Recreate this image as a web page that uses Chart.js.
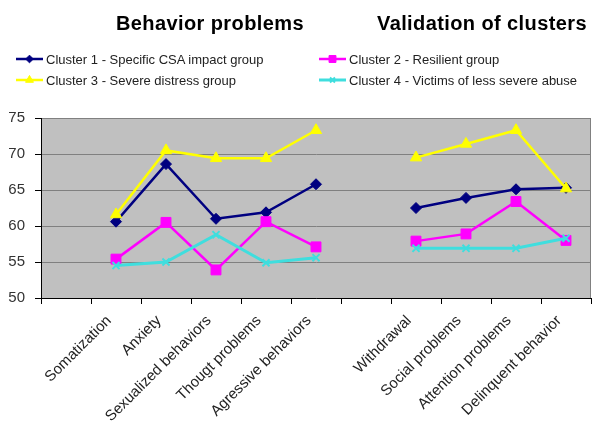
<!DOCTYPE html>
<html>
<head>
<meta charset="utf-8">
<script src="https://cdn.jsdelivr.net/npm/chart.js@4/dist/chart.umd.min.js"></script>
<style>
  body { margin: 0; background: #fff; font-family: Arial, "Liberation Sans", sans-serif; }
  #wrap { position: relative; width: 604px; height: 429px; overflow: hidden; }
  #chart { position: absolute; left: 0; top: 0; }
  .title { position: absolute; top: 12px; font-weight: bold; font-size: 20px; letter-spacing: 0.4px; color: #000; white-space: nowrap; }
  .item { position: absolute; display: flex; align-items: center; font-size: 13px; color: #222; white-space: nowrap; }
  .item canvas { margin-right: 3px; }
</style>
</head>
<body>
<div id="wrap">
  <canvas id="chart" width="604" height="429"></canvas>
  <div class="title" style="left:116px">Behavior problems</div>
  <div class="title" style="left:377px">Validation of clusters</div>
  <div id="legend"></div>
</div>
<script>
// categories (empty slots keep the gap before and between the two groups)
const categories = ["", "Somatization", "Anxiety", "Sexualized behaviors", "Thougt problems", "Agressive behaviors",
    "", "Withdrawal", "Social problems", "Attention problems", "Delinquent behavior"];

const cluster1 = [null, 60.6, 68.6, 61.0, 61.9, 65.8, null, 62.5, 63.9, 65.1, 65.3];
const cluster2 = [null, 55.4, 60.5, 53.9, 60.6, 57.1, null, 57.9, 58.9, 63.4, 58.0];
const cluster3 = [null, 61.6, 70.5, 69.4, 69.4, 73.3, null, 69.5, 71.4, 73.3, 65.2];
const cluster4 = [null, 54.5, 55.0, 58.8, 54.9, 55.6, null, 56.9, 56.9, 56.9, 58.3];

const seriesNames = [
    "Cluster 1 - Specific CSA impact group",
    "Cluster 2 - Resilient group",
    "Cluster 3 - Severe distress group",
    "Cluster 4 - Victims of less severe abuse"
];
const yTicks = [50, 55, 60, 65, 70, 75];

function series(label, data, color, style, radius, width, order) {
    return {
        label: label,
        data: data,
        borderColor: color,
        backgroundColor: color,
        pointBackgroundColor: color,
        pointBorderColor: color,
        pointStyle: style,
        pointRadius: radius,
        pointHoverRadius: radius,
        pointBorderWidth: style === "crossRot" ? 2 : 1,
        borderWidth: width,
        tension: 0,
        spanGaps: false,
        order: order
    };
}

const datasets = [
    series(seriesNames[0], cluster1, "#000080", "rectRot", 5.5, 2.5, 4),
    series(seriesNames[1], cluster2, "#ff00ff", "rect", 7, 2.5, 3),
    series(seriesNames[2], cluster3, "#ffff00", "triangle", 6.5, 2.5, 2),
    series(seriesNames[3], cluster4, "#3fdede", "crossRot", 5, 3, 1)
];

// grey plot area like the old Excel default
const plotBg = {
    id: "plotBg",
    beforeDraw(chart) {
        const a = chart.chartArea, ctx = chart.ctx;
        ctx.save();
        ctx.fillStyle = "#c0c0c0";
        ctx.fillRect(a.left, a.top, a.right - a.left, a.bottom - a.top);
        ctx.strokeStyle = "#808080";
        ctx.lineWidth = 1;
        ctx.strokeRect(a.left + 0.5, a.top + 0.5, a.right - a.left - 1, a.bottom - a.top);
        ctx.restore();
    }
};

const chart = new Chart(document.getElementById("chart"), {
    type: "line",
    data: { labels: categories, datasets: datasets },
    plugins: [plotBg],
    options: {
        responsive: false,
        animation: false,
        layout: { padding: { left: 0, right: 13, top: 118, bottom: 0 } },
        plugins: { legend: { display: false }, tooltip: { enabled: false } },
        scales: {
            x: {
                offset: true,
                afterFit: s => { s.height = 131; },
                grid: { offset: true, drawOnChartArea: false, drawTicks: true, tickLength: 6, color: "#000" },
                border: { color: "#000", width: 1 },
                ticks: {
                    autoSkip: false, maxRotation: 45, minRotation: 45, padding: 8, labelOffset: -7,
                    color: "#222", font: { family: "Arial, 'Liberation Sans'", size: 15 }
                }
            },
            y: {
                min: 50, max: 75,
                afterFit: s => { s.width = 41; },
                afterBuildTicks: s => { s.ticks = yTicks.map(v => ({ value: v })); },
                grid: { color: "#808080", tickColor: "#000", tickLength: 6 },
                border: { color: "#000", width: 1 },
                ticks: {
                    padding: 10, color: "#333",
                    font: { family: "Arial, 'Liberation Sans'", size: 15 }
                }
            }
        }
    }
});

// legend laid out as 2x2 like the reference
const legendPos = [[16, 59], [319, 59], [16, 80], [319, 80]];
const legendBox = document.getElementById("legend");
datasets.forEach((ds, i) => {
    const item = document.createElement("div");
    item.className = "item";
    item.style.left = legendPos[i][0] + "px";
    item.style.top = (legendPos[i][1] - 8) + "px";
    const c = document.createElement("canvas");
    c.width = 27; c.height = 16;
    const ctx = c.getContext("2d");
    ctx.strokeStyle = ds.borderColor;
    ctx.lineWidth = ds.borderWidth;
    ctx.beginPath(); ctx.moveTo(0, 8); ctx.lineTo(27, 8); ctx.stroke();
    ctx.fillStyle = ds.backgroundColor;
    ctx.lineWidth = ds.pointBorderWidth;
    if (Chart.helpers && Chart.helpers.drawPoint) {
        Chart.helpers.drawPoint(ctx, { pointStyle: ds.pointStyle, radius: ds.pointRadius * 0.7, borderWidth: ds.pointBorderWidth, rotation: 0 }, 13.5, 8);
    }
    item.appendChild(c);
    const t = document.createElement("span");
    t.textContent = ds.label;
    item.appendChild(t);
    legendBox.appendChild(item);
});
</script>
</body>
</html>
